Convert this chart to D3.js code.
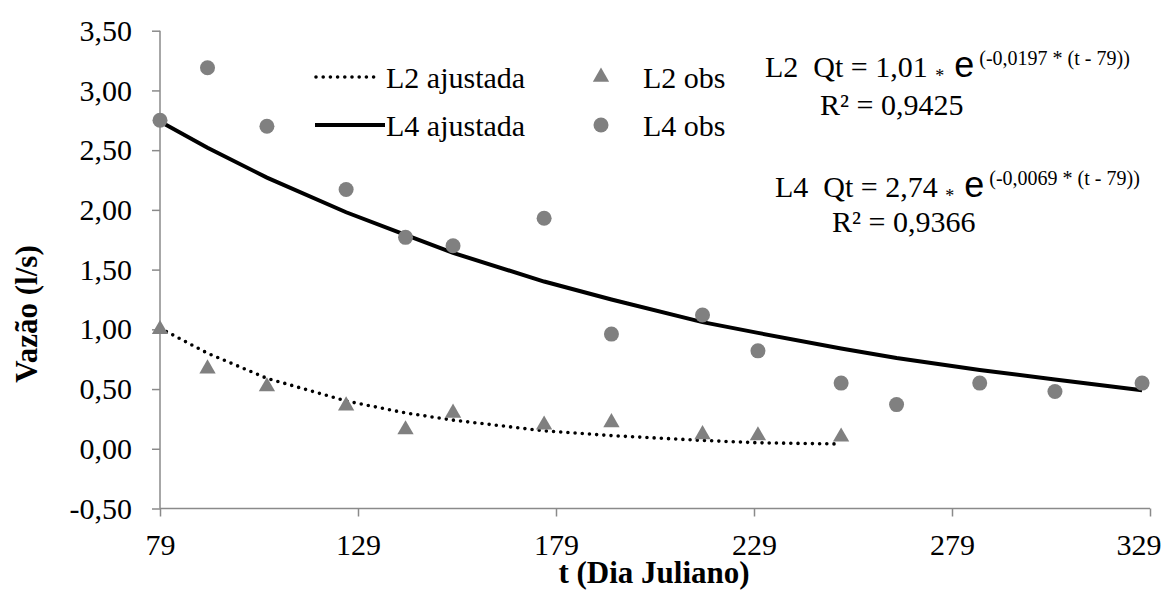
<!DOCTYPE html>
<html>
<head>
<meta charset="utf-8">
<script src="https://cdn.jsdelivr.net/npm/d3@7"></script>
<style>
  html, body { margin: 0; padding: 0; background: #fff; }
  svg text { font-family: "Liberation Serif", "Tinos", "DejaVu Serif", serif; }
</style>
</head>
<body>
<div id="chart"></div>
<script>
// days of observation (Julian day)
const days = [79, 91, 106, 126, 141, 153, 176, 193, 216, 230, 251, 265, 286, 305, 327];

// observed flow (l/s)
const l2Obs = [1.00, 0.67, 0.52, 0.36, 0.16, 0.30, 0.20, 0.22, 0.12, 0.11, 0.10];
const l4Obs = [2.75, 3.19, 2.70, 2.17, 1.77, 1.70, 1.93, 0.96, 1.12, 0.82, 0.55, 0.37, 0.55, 0.48, 0.55];

// fitted curves, read at the same days
const l2Fit = [1.01, 0.80, 0.59, 0.40, 0.30, 0.24, 0.15, 0.11, 0.07, 0.05, 0.04];
const l4Fit = [2.74, 2.52, 2.27, 1.98, 1.79, 1.64, 1.40, 1.25, 1.06, 0.97, 0.84, 0.76, 0.66, 0.58, 0.49];

const xTicks = [79, 129, 179, 229, 279, 329];
const yTicks = [-0.5, 0, 0.5, 1, 1.5, 2, 2.5, 3, 3.5];

const legendLines = ["L2 ajustada", "L4 ajustada"];
const legendMarks = ["L2 obs", "L4 obs"];

const equations = [
  { name: "L2", a: "1,01", k: "(-0,0197 * (t - 79))", r2: "0,9425" },
  { name: "L4", a: "2,74", k: "(-0,0069 * (t - 79))", r2: "0,9366" }
];

const width = 1162, height = 592;
const grey = "#808080";
const axisGrey = "#8a8a8a";
const serif = '"Liberation Serif", "Tinos", "DejaVu Serif", serif';

const svg = d3.select("#chart").append("svg")
  .attr("width", width)
  .attr("height", height);

const x = d3.scaleLinear().domain([79, 329]).range([160, 1150]);
const y = d3.scaleLinear().domain([-0.5, 3.5]).range([508.5, 30.7]);

const loc = d3.formatLocale({ decimal: ",", thousands: ".", grouping: [3], currency: ["", ""], minus: "-" });
const fmt = loc.format(".2f");

// y axis
const yAxis = svg.append("g")
  .attr("transform", `translate(${x(79)},0)`)
  .call(d3.axisLeft(y).tickValues(yTicks).tickSize(8).tickPadding(20).tickFormat(fmt));

// x axis
const xAxis = svg.append("g")
  .attr("transform", `translate(0,${y(-0.5)})`)
  .call(d3.axisBottom(x).tickValues(xTicks).tickSize(8).tickPadding(17).tickFormat(d3.format("d")));

[yAxis, xAxis].forEach(ax => {
  ax.attr("font-family", serif).attr("font-size", 30);
  ax.select(".domain").attr("stroke", axisGrey).attr("stroke-width", 1.5);
  ax.selectAll(".tick line").attr("stroke", axisGrey).attr("stroke-width", 1.5);
  ax.selectAll(".tick text").attr("fill", "#000");
});
yAxis.select(".domain").attr("d", `M-0,${y(3.5)}V${y(-0.5)}`);
xAxis.select(".domain").attr("d", `M${x(79)},0H${x(329)}`);
// last label sits against the right edge
xAxis.selectAll(".tick text")
  .filter(d => d === 329)
  .attr("text-anchor", "end")
  .attr("x", 11);

// axis titles
svg.append("text")
  .attr("x", 654).attr("y", 583)
  .attr("text-anchor", "middle")
  .attr("font-weight", "bold")
  .attr("font-size", 31)
  .text("t (Dia Juliano)");

svg.append("text")
  .attr("transform", "translate(37,314) rotate(-90)")
  .attr("text-anchor", "middle")
  .attr("font-weight", "bold")
  .attr("font-size", 31)
  .text("Vazão (l/s)");

// fitted lines
const line = d3.line().x(d => x(d[0])).y(d => y(d[1]));

svg.append("path")
  .datum(l4Fit.map((v, i) => [days[i], v]))
  .attr("d", line)
  .attr("fill", "none")
  .attr("stroke", "#000")
  .attr("stroke-width", 4);

svg.append("path")
  .datum(l2Fit.map((v, i) => [days[i], v]))
  .attr("d", line)
  .attr("fill", "none")
  .attr("stroke", "#000")
  .attr("stroke-width", 3.6)
  .attr("stroke-linecap", "round")
  .attr("stroke-dasharray", "0 7.2");

// observed markers
const tri = d3.symbol().type(d3.symbolTriangle).size(115);

svg.append("g").selectAll("path")
  .data(l2Obs.map((v, i) => [days[i], v]))
  .join("path")
  .attr("d", tri)
  .attr("transform", d => `translate(${x(d[0])},${y(d[1])})`)
  .attr("fill", grey);

svg.append("g").selectAll("circle")
  .data(l4Obs.map((v, i) => [days[i], v]))
  .join("circle")
  .attr("cx", d => x(d[0]))
  .attr("cy", d => y(d[1]))
  .attr("r", 7.5)
  .attr("fill", grey);

// legend
const leg = svg.append("g");
const rowY = [77, 125];

leg.append("line")
  .attr("x1", 316).attr("x2", 378).attr("y1", rowY[0]).attr("y2", rowY[0])
  .attr("stroke", "#000").attr("stroke-width", 3.6)
  .attr("stroke-linecap", "round").attr("stroke-dasharray", "0 7.2");
leg.append("line")
  .attr("x1", 315).attr("x2", 385).attr("y1", rowY[1]).attr("y2", rowY[1])
  .attr("stroke", "#000").attr("stroke-width", 4);

legendLines.forEach((t, i) => {
  leg.append("text")
    .attr("x", 386).attr("y", rowY[i])
    .attr("dy", "0.35em")
    .attr("font-size", 30)
    .text(t);
});

leg.append("path")
  .attr("d", tri)
  .attr("transform", `translate(601,${rowY[0]})`)
  .attr("fill", grey);
leg.append("circle")
  .attr("cx", 601).attr("cy", rowY[1]).attr("r", 7.5)
  .attr("fill", grey);

legendMarks.forEach((t, i) => {
  leg.append("text")
    .attr("x", 643).attr("y", rowY[i])
    .attr("dy", "0.35em")
    .attr("font-size", 30)
    .text(t);
});

// equations
const eqPos = [
  { x: 765, y: 77, rx: 820, ry: 115 },
  { x: 775, y: 197, rx: 832, ry: 232 }
];

equations.forEach((eq, i) => {
  const p = eqPos[i];
  const t = svg.append("text")
    .attr("x", p.x).attr("y", p.y)
    .attr("font-size", 30)
    .style("white-space", "pre");
  t.append("tspan").text(`${eq.name}  Qt = ${eq.a} `);
  t.append("tspan").attr("font-size", 18).attr("dy", 5).text("*");
  t.append("tspan")
    .style("font-family", '"Liberation Sans", sans-serif')
    .attr("font-size", 36).attr("dy", -5).text(" e");
  t.append("tspan").attr("font-size", 20).attr("dy", -12).text(" " + eq.k);

  svg.append("text")
    .attr("x", p.rx).attr("y", p.ry)
    .attr("font-size", 30)
    .text(`R² = ${eq.r2}`);
});
</script>
</body>
</html>
